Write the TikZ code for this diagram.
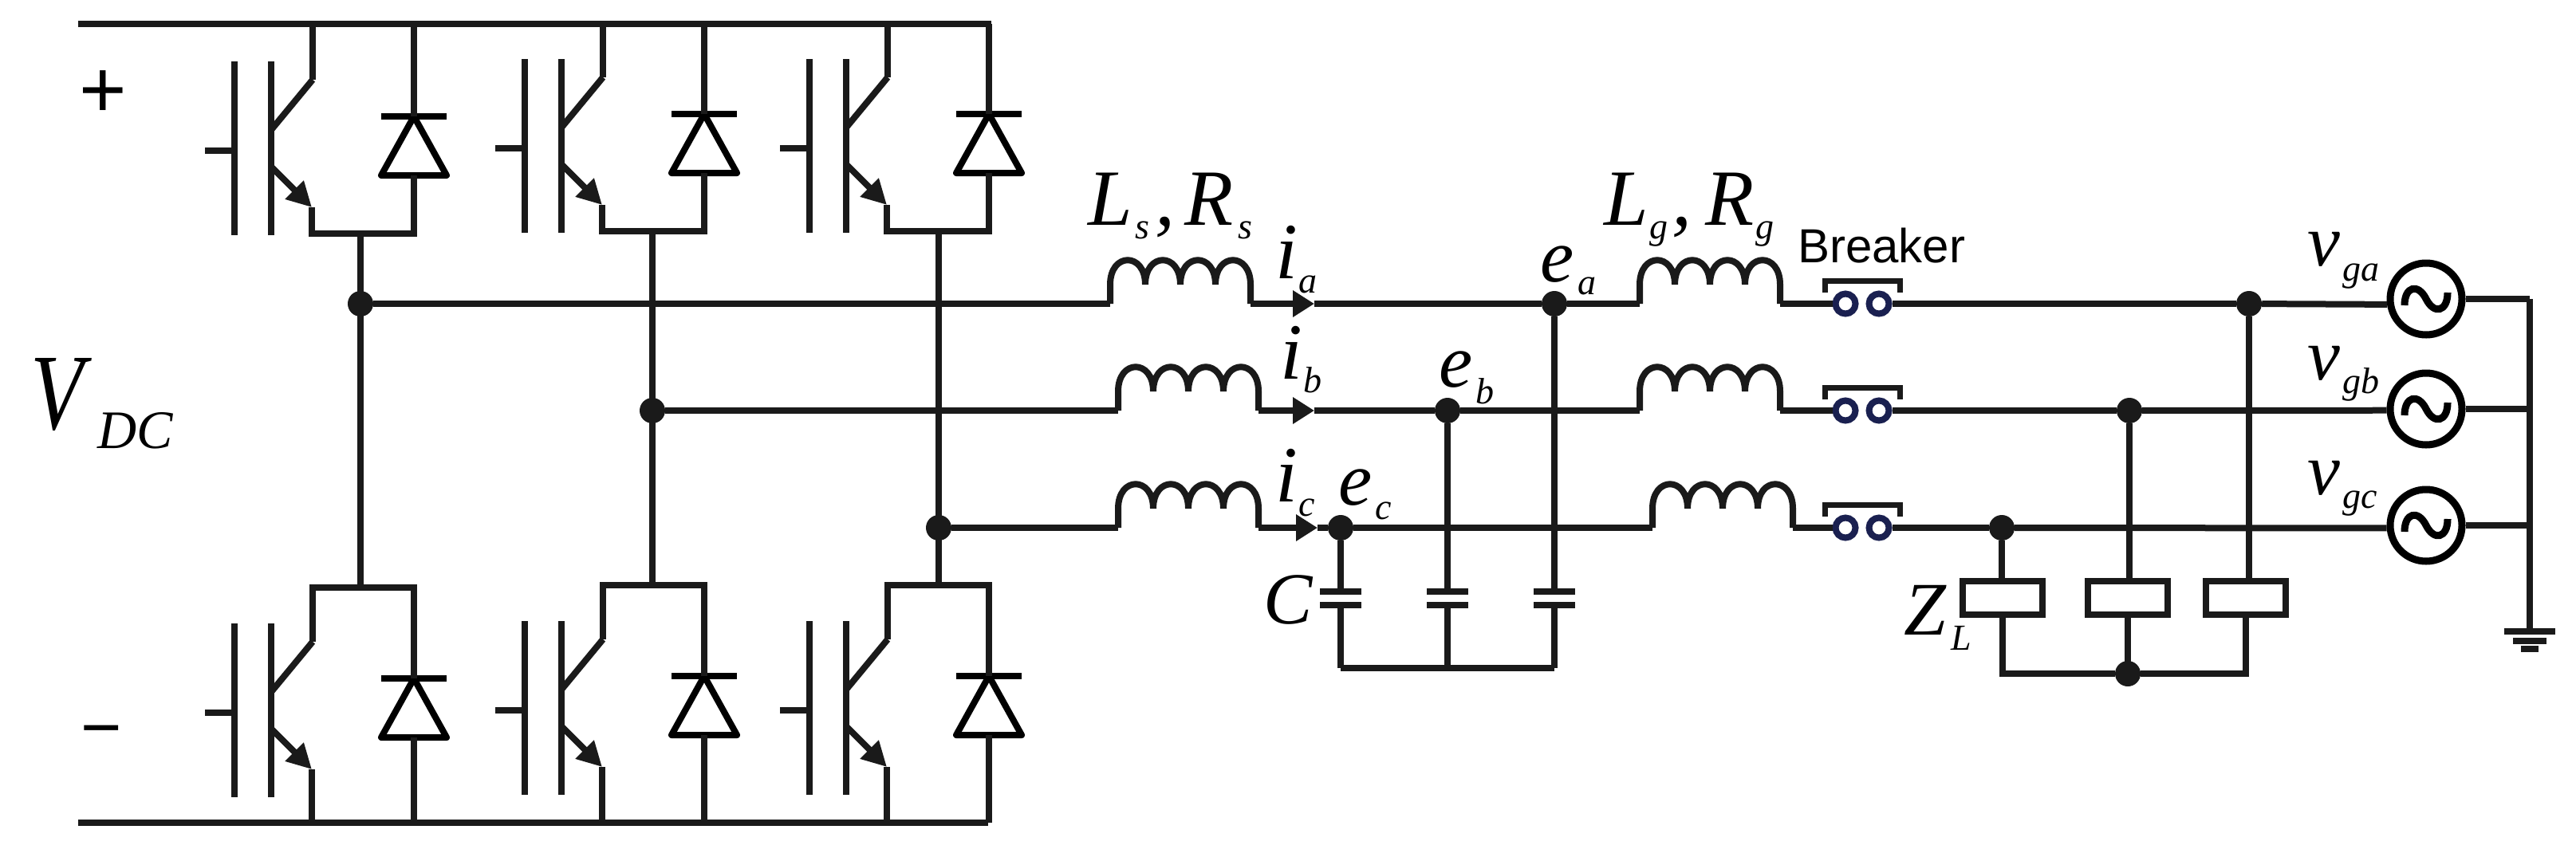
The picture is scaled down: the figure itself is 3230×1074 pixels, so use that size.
\documentclass[tikz,border=0pt]{standalone}
\usepackage{fontspec}
\setmainfont{Liberation Serif}
\newfontfamily\brkfont{Liberation Sans}
\usetikzlibrary{arrows.meta}
\definecolor{wirecol}{RGB}{26,26,26}
\definecolor{brknavy}{RGB}{26,32,80}
\newcommand{\subtxt}[4][46]{\kern#2pt\raisebox{-#3pt}{\fontsize{#1}{#1}\selectfont #4}}
\tikzset{
	wire/.style={line width=8pt, draw=wirecol},
	dio/.style={line width=8pt, draw=black},
	jdot/.style={circle, fill=wirecol, inner sep=0pt, minimum size=32pt},
	italabel/.style={inner sep=0pt, anchor=base west, font=\fontsize{#1}{#1}\selectfont\itshape},
	sourcebox/.style={circle, draw=black, line width=9pt, inner sep=0pt, minimum size=90pt},
	loadbox/.style={rectangle, draw=wirecol, line width=8pt, inner sep=0pt, minimum width=100pt, minimum height=42pt},
	contact/.style={circle, draw=brknavy, fill=white, line width=8pt, inner sep=0pt, minimum size=25pt},
	igbtcell/.pic={
		\coordinate (-c) at (98,-89);
		\coordinate (-e) at (97,71);
		\coordinate (-k) at (225,-43);
		\coordinate (-a) at (225,31);
		\draw[wire] (-37,0) -- (0,0);
		\draw[wire] (0,-112) -- (0,106);
		\draw[wire] (46,-112) -- (46,106);
		\draw[wire] (46,-26) -- (-c);
		\draw[wire, -{Triangle[length=31pt,width=31pt]}] (46,20) -- (-e);
		\draw[dio, line join=round] (225,-43) -- (184,31) -- (266,31) -- cycle;
		\draw[dio] (184,-43) -- (266,-43);
	},
	coil/.pic={
		\coordinate (-in) at (0,0);
		\coordinate (-out) at (176,0);
		\draw[wire] (-in) -- (0,-24)
			.. controls (0,-65) and (44,-65) .. (44,-24)
			.. controls (44,-65) and (88,-65) .. (88,-24)
			.. controls (88,-65) and (132,-65) .. (132,-24)
			.. controls (132,-65) and (176,-65) .. (176,-24) -- (-out);
	},
	breaker/.pic={
		\node[contact] (-l) at (-21,0) {};
		\node[contact] (-r) at (21,0) {};
		\draw[wire, line width=7pt] (-47,-14) -- (-47,-29) -- (47,-29) -- (47,-14);
	},
	acwave/.pic={
		\draw[line width=9pt, draw=black] (-27,8) .. controls (-27,-16) and (-10,-20) .. (0,0)
			.. controls (10,20) and (27,16) .. (27,-8);
	}
}
\begin{document}
\begin{tikzpicture}[x=1pt, y=-1pt]
	\useasboundingbox (0,0) rectangle (3230,1074);

	% dc buses
	\coordinate (busp) at (98,30);
	\coordinate (busn) at (98,1032);
	\coordinate (buspe) at (1239,30);
	\coordinate (busne) at (1239,1032);
	\draw[wire] (busp) -- (buspe) -- ++(0,4);
	\draw[wire] (busn) -- (busne);

	% bridge legs
	\foreach \ph/\xo/\yup/\ylo in {a/294/189/894, b/658/186/891, c/1015/186/891} {
		\pic (u\ph) at (\xo,\yup) {igbtcell};
		\pic (l\ph) at (\xo,\ylo) {igbtcell};
		\coordinate (u\ph-bar) at ([yshift=-33pt]u\ph-e);
		\coordinate (l\ph-bar) at ([yshift=68pt]l\ph-c);
		\draw[wire] (u\ph-c) -- (u\ph-c |- busp);
		\draw[wire] (u\ph-k) -- (u\ph-k |- busp);
		\draw[wire] (u\ph-e) -- (u\ph-bar) -| (u\ph-a);
		\draw[wire] (l\ph-c) -- (l\ph-bar) -| (l\ph-k);
		\draw[wire] (l\ph-e) -- (l\ph-e |- busn);
		\draw[wire] (l\ph-a) -- (l\ph-a |- busn);
	}

	% junctions
	\node[jdot] (jua) at (452,381) {};
	\node[jdot] (jub) at (818,515) {};
	\node[jdot] (juc) at (1177,662) {};
	\node[jdot] (jea) at (1949,381) {};
	\node[jdot] (jeb) at (1815,515) {};
	\node[jdot] (jec) at (1681,662) {};
	\node[jdot] (jga) at (2820,381) {};
	\node[jdot] (jgb) at (2670,515) {};
	\node[jdot] (jgc) at (2510,662) {};
	\node[jdot] (jlo) at (2668,845) {};

	% grid sources
	\node[sourcebox] (sa) at (3042,375) {};
	\node[sourcebox] (sb) at (3042,513) {};
	\node[sourcebox] (sc) at (3042,659) {};

	% load boxes
	\node[loadbox] (za) at (2816,750) {};
	\node[loadbox] (zb) at (2668,750) {};
	\node[loadbox] (zc) at (2511,750) {};

	\coordinate (rail) at (3172,375);
	\coordinate (gnd) at (3172,792);
	\coordinate (caprail) at (1681,838);

	% phases
	\foreach \ph/\ly/\cx/\tipx/\gx/\sang in {a/381/1392/1648/2056/188, b/515/1402/1648/2056/182, c/662/1402/1652/2072/184} {
		\draw[wire] (ju\ph |- u\ph-bar) -- (ju\ph |- l\ph-bar);
		\pic (ls\ph) at (\cx,\ly) {coil};
		\pic (lg\ph) at (\gx,\ly) {coil};
		\pic (br\ph) at (2335,\ly) {breaker};
		\pic at (s\ph) {acwave};
		\coordinate (tip\ph) at (\tipx,\ly);
		\draw[wire] (ju\ph) -- (ls\ph-in);
		\draw[wire, -{Triangle[length=27pt,width=32pt]}] (ls\ph-out) -- (tip\ph);
		\draw[wire] (tip\ph) -- (je\ph);
		\draw[wire] (je\ph) -- (lg\ph-in);
		\draw[wire] (lg\ph-out) -- (br\ph-l);
		\draw[wire] (br\ph-r) -- (jg\ph);
		\draw[wire] (jg\ph) -- (s\ph.\sang);
		\draw[wire] (s\ph.east) -- (s\ph.east -| rail);
		% filter capacitor
		\coordinate (ct\ph) at (je\ph |- 0,742);
		\coordinate (cb\ph) at (je\ph |- 0,759);
		\draw[wire] (je\ph) -- (ct\ph);
		\draw[wire] (cb\ph) -- (cb\ph |- caprail);
		\draw[wire] ([xshift=-26pt]ct\ph) -- ([xshift=26pt]ct\ph);
		\draw[wire] ([xshift=-26pt]cb\ph) -- ([xshift=26pt]cb\ph);
		% load
		\draw[wire] (jg\ph) -- (jg\ph |- z\ph.north);
		\draw[wire] (z\ph.south) |- (jlo);
	}

	\draw[wire] (caprail -| jec) -- (caprail -| jea);

	% ground
	\draw[wire] (rail) -- (gnd);
	\draw[wire] ([xshift=-32pt]gnd) -- ([xshift=32pt]gnd);
	\draw[wire] ([shift={(-21pt,-12pt)}]gnd) -- ([shift={(21pt,-12pt)}]gnd);
	\draw[wire] ([shift={(-11pt,-22pt)}]gnd) -- ([shift={(11pt,-22pt)}]gnd);

	% labels
	\node[font=\fontsize{102}{102}\selectfont\brkfont, inner sep=0pt] (plus) at (129,118) {+};
	\node[font=\fontsize{88}{88}\selectfont\brkfont, inner sep=0pt] (minus) at (127,926) {−};
	\node[italabel=136] (vdc) at (38,538) {\scalebox{.8}[1]{V}\subtxt[68]{18}{24}{DC}};
	\node[italabel=100] (lsrs) at (1364,282) {L\subtxt{4}{17}{s}\kern7pt,\kern12pt R\subtxt{6}{17}{s}};
	\node[italabel=100] (lgrg) at (2011,282) {L\subtxt{2}{17}{g}\kern5pt,\kern17pt R\subtxt{2}{17}{g}};
	\node[italabel=100] (ia) at (1599,349) {i\subtxt{1}{18}{a}};
	\node[italabel=100] (ib) at (1605,475) {i\subtxt{1}{17}{b}};
	\node[italabel=100] (ic) at (1599,629) {i\subtxt{1}{18}{c}};
	\node[italabel=95] (ea) at (1931,353) {e\subtxt{5}{16}{a}};
	\node[italabel=95] (eb) at (1804,485) {e\subtxt{4}{21}{b}};
	\node[italabel=95] (ec) at (1678,633) {e\subtxt{4}{18}{c}};
	\node[italabel=92] (cap) at (1584,782) {C};
	\node[inner sep=0pt, anchor=base west, font=\fontsize{60}{60}\selectfont\brkfont] (brk) at (2254,329) {Breaker};
	\node[italabel=92] (vga) at (2893,333) {v\subtxt{3}{19}{ga}};
	\node[italabel=92] (vgb) at (2893,476) {v\subtxt{3}{17}{gb}};
	\node[italabel=92] (vgc) at (2893,620) {v\subtxt{3}{17}{gc}};
	\node[italabel=95] (zl) at (2387,796) {Z\subtxt{6}{19}{L}};
\end{tikzpicture}
\end{document}
